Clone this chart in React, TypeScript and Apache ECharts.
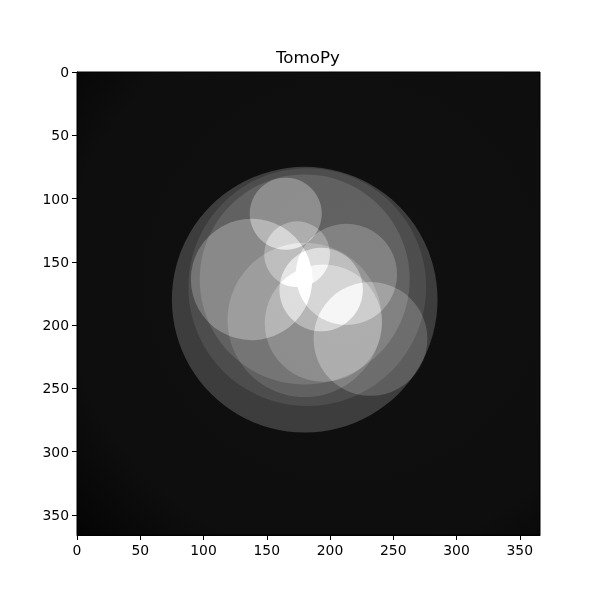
import { useEffect, useRef } from 'react'
import * as echarts from 'echarts'

// circles of the reconstructed phantom: centre (column, row), radius, and the grey level each one adds
const circleNames = ['A', 'B', 'C', 'L', 'K', 'K2', 'M', 'U', 'D', 'E', 'F']
const circleCol = [180, 182, 180, 138, 180, 194.8, 232, 213, 165, 174, 193]
const circleRow = [180, 170, 164, 164, 196, 198.5, 211, 160, 112, 144, 172]
const circleRadius = [105, 94, 83, 48, 61, 46.4, 45, 40, 28.5, 26, 33]
const circleIntensity = [46, 16, 20, 40, 20, 24, 32, 32, 44, 32, 40]

const tickValues = [0, 50, 100, 150, 200, 250, 300, 350]
const imageSize = 366

const FONT = 'DejaVu Sans'

export default function App() {
  const chartRef = useRef<HTMLDivElement>(null)

  useEffect(() => {
    if (!chartRef.current) return
    const chart = echarts.init(chartRef.current, null, { renderer: 'svg' })

    const data = circleNames.map((name, i) => ({
      name,
      value: [circleCol[i], circleRow[i], circleRadius[i], circleIntensity[i]]
    }))

    const axisCommon = {
      type: 'value' as const,
      min: 0,
      max: imageSize,
      interval: 50,
      splitLine: { show: false },
      axisLine: { show: true, onZero: false, lineStyle: { color: '#000', width: 1 } },
      axisTick: { show: true, length: 5, customValues: tickValues, lineStyle: { color: '#000', width: 1 } },
      axisLabel: {
        color: '#000',
        fontFamily: FONT,
        fontSize: 13.9,
        margin: 8,
        customValues: tickValues
      }
    }

    chart.setOption({
      animation: false,
      title: {
        text: 'TomoPy',
        left: 276,
        top: 48,
        padding: 0,
        textStyle: { fontFamily: FONT, fontSize: 16.7, fontWeight: 'normal', color: '#000' }
      },
      grid: {
        left: 77,
        top: 72,
        width: 463,
        height: 463,
        show: true,
        borderColor: '#000',
        borderWidth: 1,
        // dark reconstruction background, a little darker towards the corners
        backgroundColor: {
          type: 'radial',
          x: 0.58,
          y: 0.45,
          r: 0.8,
          colorStops: [
            { offset: 0, color: '#101010' },
            { offset: 0.75, color: '#0e0e0e' },
            { offset: 1, color: '#040404' }
          ]
        }
      },
      xAxis: { ...axisCommon, position: 'bottom' },
      yAxis: { ...axisCommon, inverse: true, position: 'left' },
      series: [
        {
          type: 'custom',
          coordinateSystem: 'cartesian2d',
          encode: { x: 0, y: 1 },
          data,
          renderItem: (params: any, api: any) => {
            const c = api.coord([api.value(0), api.value(1)])
            const r = api.size([api.value(2), 0])[0]
            const v = api.value(3)
            return {
              type: 'circle',
              shape: { cx: c[0], cy: c[1], r },
              style: { fill: `rgb(${v},${v},${v})`, stroke: 'none' }
            }
          }
        }
      ]
    })

    // the circles are summed like attenuation values, so blend them additively
    const applyBlend = () => {
      const paths = chartRef.current?.querySelectorAll('path') ?? []
      paths.forEach((p) => {
        const fill = (p.getAttribute('fill') || '').toLowerCase()
        if (/^(#|rgb)/.test(fill) && fill !== '#000' && fill !== '#000000' && fill !== 'rgb(0,0,0)') {
          ;(p as SVGElement).style.mixBlendMode = 'plus-lighter'
        }
      })
    }
    applyBlend()
    chart.on('finished', applyBlend)

    return () => {
      chart.dispose()
    }
  }, [])

  return (
    <div
      ref={chartRef}
      style={{ position: 'absolute', left: 0, top: 0, width: '600px', height: '600px' }}
    />
  )
}
